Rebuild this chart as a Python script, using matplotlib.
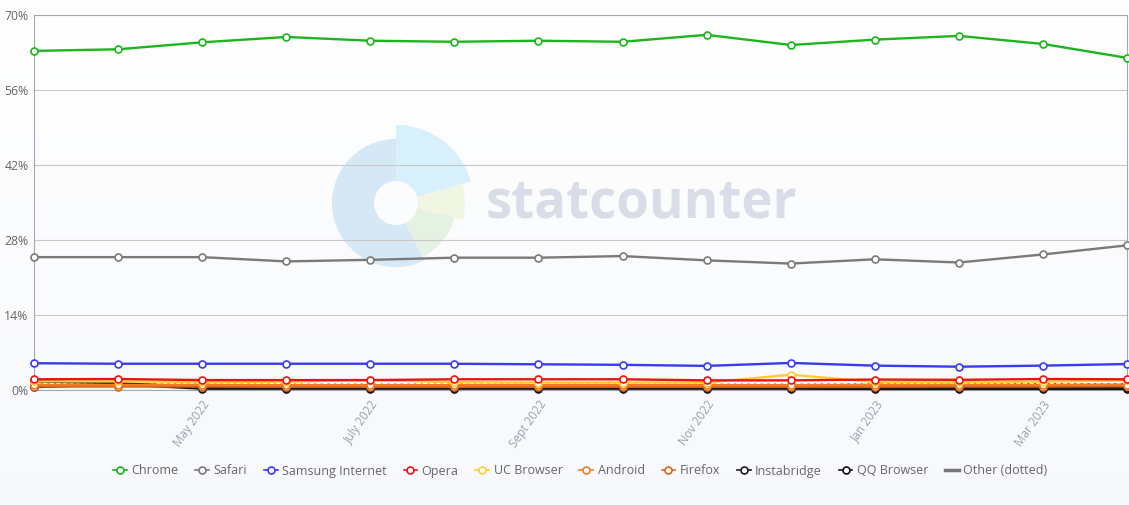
# %% Libraries and data

import numpy as np
import matplotlib.pyplot as plt
from matplotlib.patches import Wedge
from matplotlib.lines import Line2D

plt.rcParams['font.family'] = ['Open Sans', 'DejaVu Sans']

months = ['Mar 2022', 'Apr 2022', 'May 2022', 'Jun 2022', 'July 2022', 'Aug 2022',
          'Sept 2022', 'Oct 2022', 'Nov 2022', 'Dec 2022', 'Jan 2023', 'Feb 2023',
          'Mar 2023', 'Apr 2023']
tick_idx = [2, 4, 6, 8, 10, 12]

chrome = [63.3, 63.6, 64.9, 65.9, 65.2, 65.0, 65.2, 65.0, 66.3, 64.4, 65.4, 66.1, 64.6, 62.0]
safari = [24.8, 24.8, 24.8, 24.0, 24.3, 24.7, 24.7, 25.0, 24.2, 23.6, 24.4, 23.8, 25.3, 27.0]
samsung = [5.0, 4.9, 4.9, 4.9, 4.9, 4.9, 4.8, 4.7, 4.5, 5.05, 4.55, 4.35, 4.55, 4.85]
opera = [2.0, 2.05, 1.85, 1.85, 1.85, 2.0, 2.0, 2.0, 1.8, 1.8, 1.95, 1.9, 2.05, 2.0]
uc = [1.6, 1.6, 1.5, 1.55, 1.85, 1.45, 1.4, 1.4, 1.4, 2.85, 1.5, 1.45, 1.55, 1.8]
android = [0.95, 0.95, 0.95, 0.9, 0.9, 0.9, 0.9, 0.9, 0.9, 0.9, 0.95, 0.95, 0.95, 1.0]
firefox = [0.65, 0.65, 0.65, 0.6, 0.6, 0.6, 0.6, 0.6, 0.6, 0.6, 0.6, 0.65, 0.65, 0.7]
instabridge = [1.6, 1.3, 0.5, 0.45, 0.45, 0.4, 0.4, 0.4, 0.4, 0.4, 0.35, 0.35, 0.35, 0.35]
qq = [0.55, 1.05, 0.25, 0.25, 0.25, 0.25, 0.25, 0.25, 0.25, 0.25, 0.2, 0.2, 0.2, 0.2]
other = [1.05, 1.05, 1.0, 1.0, 1.0, 1.0, 1.0, 1.0, 1.0, 1.0, 1.05, 1.05, 1.1, 1.1]

series = [
    ('Chrome', chrome, '#1cb51c'),
    ('Safari', safari, '#7a7a7a'),
    ('Samsung Internet', samsung, '#3a3af5'),
    ('Opera', opera, '#ee1111'),
    ('UC Browser', uc, '#ffcc33'),
    ('Android', android, '#f27a26'),
    ('Firefox', firefox, '#d9661a'),
    ('Instabridge', instabridge, '#1a1a1a'),
    ('QQ Browser', qq, '#111111'),
]

# %% Figure and background

W, H = 1129, 505
fig = plt.figure(figsize=(W / 100, H / 100), dpi=100)

bg = fig.add_axes([0, 0, 1, 1], zorder=0)
grad = np.linspace(0, 1, 256).reshape(-1, 1)
bg.imshow(np.dstack([1 - 0.03 * grad, 1 - 0.025 * grad, 1 - 0.012 * grad]),
          extent=[0, W, H, 0], aspect='auto')
bg.set_xlim(0, W)
bg.set_ylim(H, 0)
bg.axis('off')

# statcounter watermark (y axis is flipped here, so angles are mirrored)
cx, cy = 396, 203
bg.add_patch(Wedge((cx, cy), 64, -296, -90, width=42, color='#d6e7f6', lw=0))
bg.add_patch(Wedge((cx, cy), 78, -90, -16, width=56, color='#d8f0fb', lw=0))
bg.add_patch(Wedge((cx, cy), 69, -16, 14, width=47, color='#f1f6e2', lw=0))
bg.add_patch(Wedge((cx, cy), 60, 14, 64, width=38, color='#e5f1e3', lw=0))
bg.text(486, 218, 'statcounter', fontsize=38, fontweight='bold', color='#d8dde7',
        ha='left', va='baseline')

# %% Chart

ax = fig.add_axes([34 / W, 1 - 390 / H, 1093 / W, 375 / H], zorder=1)
ax.set_facecolor('none')
x = np.arange(len(months))

ax.plot(x, other, color='#666666', lw=1.6, ls=(0, (1, 2)), zorder=3)
for name, vals, col in reversed(series):
    ax.plot(x, vals, color=col, lw=1.7, marker='o', ms=5, mfc='white',
            mec=col, mew=1.2, zorder=3, clip_on=False)

ax.set_xlim(0, len(months) - 1)
ax.set_ylim(0, 70)
ax.set_yticks([0, 14, 28, 42, 56, 70])
ax.set_yticklabels(['0%', '14%', '28%', '42%', '56%', '70%'])
ax.set_xticks(tick_idx)
ax.set_xticklabels([months[i] for i in tick_idx], rotation=55, ha='right',
                   va='top', rotation_mode='anchor')
ax.tick_params(axis='x', length=0, pad=6, labelsize=8.5, labelcolor='#9aa1ad')
ax.tick_params(axis='y', length=0, pad=4, labelsize=8.8, labelcolor='#666666')
ax.grid(axis='y', color='#c8c8c8', lw=0.8, zorder=0)
for s in ax.spines.values():
    s.set_color('#a8a8a8')
    s.set_linewidth(0.8)

# %% Legend

handles = [Line2D([], [], color=col, lw=1.2, marker='o', ms=5, mfc='white',
                  mec=col, mew=1.2) for _, _, col in series]
handles.append(Line2D([], [], color='#777777', lw=2.5))
labels = [s[0] for s in series] + ['Other (dotted)']
fig.legend(handles, labels, loc='center', bbox_to_anchor=(0.514, 1 - 471 / H),
           ncol=10, frameon=False, fontsize=9, handlelength=1.1,
           handletextpad=0.35, columnspacing=1.35, labelcolor='#666666')

fig.savefig('out.png', dpi=100)
